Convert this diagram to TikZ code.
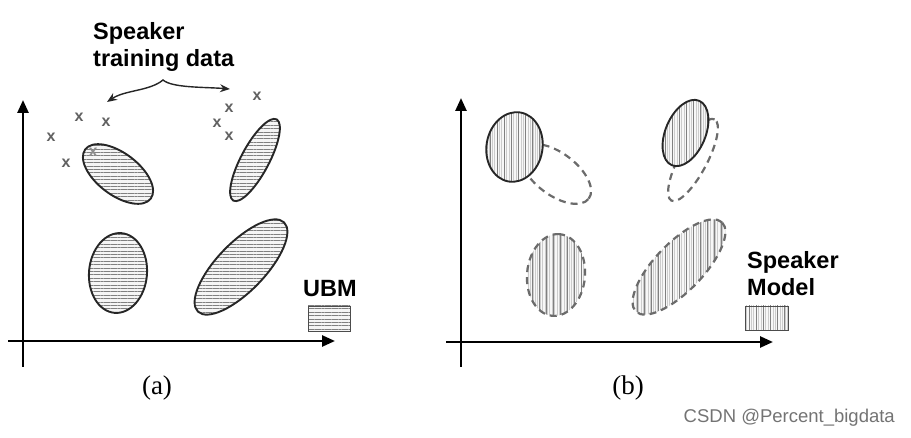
\documentclass[tikz,border=0pt]{standalone}
\usepackage{fontspec}
\setmainfont{Liberation Serif}
\setsansfont{Liberation Sans}
\usetikzlibrary{arrows.meta,patterns.meta}
\definecolor{hbg}{gray}{0.96}
\definecolor{vbg}{gray}{0.97}
\definecolor{hlinec}{gray}{0.5}
\definecolor{dashc}{gray}{0.42}
\begin{document}
\begin{tikzpicture}[x=1pt,y=-1pt,
 axis/.style={line width=2.6pt, -{Triangle[length=13pt,width=11pt]}},
 ubmfill/.style={preaction={fill=hbg}, pattern={Lines[angle=0,distance=3.4pt,line width=0.8pt]}, pattern color=hlinec},
 spkfill/.style={preaction={fill=vbg}, preaction={pattern={Lines[angle=90,distance=2.4pt,line width=0.3pt]}, pattern color=gray!40}, pattern={Lines[angle=90,distance=7pt,line width=0.8pt]}, pattern color=black!50},
 solidedge/.style={line width=1.9pt, draw=black!85},
 dsh/.style={line width=2.2pt, draw=dashc, dash pattern=on 7pt off 5pt},
 lbl/.style={font=\sffamily\bfseries\fontsize{23.5}{27}\selectfont, inner sep=0pt, align=left},
 xm/.style={font=\sffamily\bfseries\fontsize{16}{16}\selectfont, text=black!62, inner sep=0pt},
 captext/.style={font=\fontsize{27}{27}\selectfont, inner sep=0pt},
 boxedge/.style={draw=black!70, line width=0.8pt}
]
\useasboundingbox (0,0) rectangle (911,438);

% ---------------- panel (a) ----------------
\coordinate (ayb) at (23,367);
\coordinate (ayt) at (23,100);
\coordinate (axl) at (8,341);
\coordinate (axr) at (335,341);
\draw[axis] (ayb) -- (ayt);
\draw[axis] (axl) -- (axr);

% UBM ellipses
\draw[ubmfill, solidedge] (118,174) ellipse[x radius=41pt, y radius=21pt, rotate=-37];
\draw[ubmfill, solidedge] (255,160) ellipse[x radius=46pt, y radius=14pt, rotate=62];
\draw[ubmfill, solidedge] (118,273) ellipse[x radius=40pt, y radius=29pt, rotate=85];
\draw[ubmfill, solidedge] (241,267) ellipse[x radius=62pt, y radius=24pt, rotate=46];

% training data crosses
\node[xm] (x1) at (51,137) {x};
\node[xm] (x2) at (79,117) {x};
\node[xm] (x3) at (106,122) {x};
\node[xm] (x4) at (66,163) {x};
\node[xm, text=black!45] (x5) at (93,152) {x};
\node[xm] (x6) at (257,96) {x};
\node[xm] (x7) at (229,108) {x};
\node[xm] (x8) at (217,123) {x};
\node[xm] (x9) at (229,136) {x};

% label and curly arrow
\node[lbl, anchor=north west] (spktrain) at (93,22) {Speaker\\training data};
\coordinate (brL) at (107,102);
\coordinate (brM) at (163,80);
\coordinate (brR) at (230,89);
\draw[line width=1.4pt, black!85, {Stealth[length=10pt,width=8pt]}-{Stealth[length=10pt,width=8pt]}]
  (brL) .. controls (125,90) and (150,91) .. (brM) .. controls (172,88) and (205,87) .. (brR);

% UBM legend
\node[lbl] (ubm) at (330,289) {UBM};
\path[ubmfill, boxedge] (308,306) rectangle (350,331);

\node[captext] (capa) at (157,388) {(a)};

% ---------------- panel (b) ----------------
\coordinate (byb) at (461,367);
\coordinate (byt) at (461,98);
\coordinate (bxl) at (446,342);
\coordinate (bxr) at (773,342);
\draw[axis] (byb) -- (byt);
\draw[axis] (bxl) -- (bxr);

% former UBM positions (dashed)
\draw[dsh] (556,174) ellipse[x radius=41pt, y radius=21pt, rotate=-37];
\draw[dsh] (693,160) ellipse[x radius=46pt, y radius=14pt, rotate=62];

% adapted speaker components
\draw[spkfill, solidedge] (514.5,147) ellipse[x radius=35pt, y radius=28pt, rotate=80];
\draw[spkfill, solidedge] (685.5,133) ellipse[x radius=35pt, y radius=20pt, rotate=67];
\draw[spkfill, dsh] (556,275) ellipse[x radius=41pt, y radius=29pt, rotate=85];
\draw[spkfill, dsh] (679,267) ellipse[x radius=62pt, y radius=24pt, rotate=46];

% Speaker model legend
\node[lbl, anchor=north west] (spkmodel) at (747,251) {Speaker\\Model};
\path[spkfill, boxedge] (745,306) rectangle (788,330);

\node[captext] (capb) at (628,388) {(b)};

% watermark
\node[font=\sffamily\fontsize{18.5}{18.5}\selectfont, text=black!55, inner sep=0pt, anchor=east] (wm) at (895,418) {CSDN @Percent\_bigdata};
\end{tikzpicture}
\end{document}
